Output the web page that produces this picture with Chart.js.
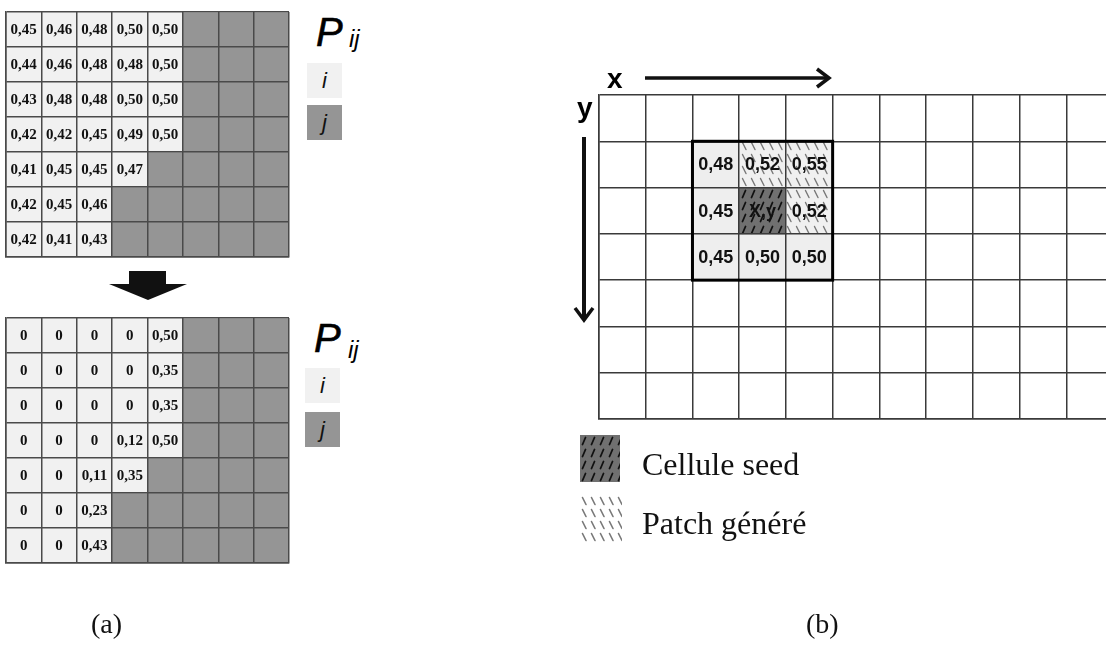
<!DOCTYPE html>
<html>
<head>
<meta charset="utf-8">
<script src="https://cdn.jsdelivr.net/npm/chart.js@4.4.1/dist/chart.umd.min.js"></script>
<style>
  body { margin: 0; width: 1106px; height: 648px; overflow: hidden; background: #fff; position: relative; }
  .abs { position: absolute; line-height: 1; white-space: nowrap; }
  .P { font: italic 40px "Liberation Sans", Arial, sans-serif; color: #000; -webkit-text-stroke: 0.6px #000; }
  .ij { font: italic 24px "Liberation Sans", Arial, sans-serif; color: #000; }
  .key { position: absolute; width: 35px; height: 35px; font: italic 22px "Liberation Sans", sans-serif;
         display: flex; align-items: center; justify-content: center; color: #111; }
  .lbl { font: 32px "Liberation Serif", "Times New Roman", serif; color: #111; }
  .cap { font: 28px "Liberation Serif", "Times New Roman", serif; color: #111; }
  .axl { font: bold 28px "Liberation Sans", Arial, sans-serif; color: #000; }
</style>
</head>
<body>

<div class="abs" style="left:3px;top:9px"><canvas id="gridTop" width="289" height="251"></canvas></div>
<div class="abs" style="left:3px;top:315px"><canvas id="gridBottom" width="289" height="251"></canvas></div>
<div class="abs" style="left:596px;top:92px"><canvas id="field" width="520" height="330"></canvas></div>

<!-- P_ij keys -->
<div class="abs P" style="left:316px;top:10px">P</div>
<div class="abs ij" style="left:349px;top:25px">ij</div>
<div class="key" style="left:307px;top:63px;background:#f1f1f1">i</div>
<div class="key" style="left:307px;top:105px;background:#959595">j</div>

<div class="abs P" style="left:314px;top:316px">P</div>
<div class="abs ij" style="left:348px;top:336px">ij</div>
<div class="key" style="left:305px;top:368px;background:#f1f1f1">i</div>
<div class="key" style="left:305px;top:412px;background:#959595">j</div>

<!-- arrows -->
<svg class="abs" style="left:0;top:0" width="1106" height="648">
  <polygon points="129,271 166,271 166,284 187,284 148,300 109,284 129,284" fill="#111"/>
  <line x1="645" y1="78" x2="827" y2="78" stroke="#111" stroke-width="3.5"/>
  <polyline points="817,69 829,78 817,87" fill="none" stroke="#111" stroke-width="3.5"/>
  <line x1="584" y1="137" x2="584" y2="319" stroke="#111" stroke-width="4"/>
  <polyline points="575,308 584,320 593,308" fill="none" stroke="#111" stroke-width="3.5"/>
</svg>
<div class="abs axl" style="left:607px;top:63px">x</div>
<div class="abs axl" style="left:577px;top:92px">y</div>

<!-- legend -->
<canvas id="keySeed" class="abs" style="left:580px;top:435px" width="40" height="47"></canvas>
<canvas id="keyPatch" class="abs" style="left:580px;top:495px" width="42" height="47"></canvas>
<div class="abs lbl" style="left:642px;top:446px">Cellule seed</div>
<div class="abs lbl" style="left:642px;top:505px">Patch généré</div>

<div class="abs cap" style="left:91px;top:608px">(a)</div>
<div class="abs cap" style="left:806px;top:608px">(b)</div>

<script>
// probabilities before (top) and after (bottom), row by row; missing cells are outside (dark)
const topValues = [
  [0.45, 0.46, 0.48, 0.50, 0.50],
  [0.44, 0.46, 0.48, 0.48, 0.50],
  [0.43, 0.48, 0.48, 0.50, 0.50],
  [0.42, 0.42, 0.45, 0.49, 0.50],
  [0.41, 0.45, 0.45, 0.47],
  [0.42, 0.45, 0.46],
  [0.42, 0.41, 0.43]
];
const bottomValues = [
  [0, 0, 0, 0, 0.50],
  [0, 0, 0, 0, 0.35],
  [0, 0, 0, 0, 0.35],
  [0, 0, 0, 0.12, 0.50],
  [0, 0, 0.11, 0.35],
  [0, 0, 0.23],
  [0, 0, 0.43]
];
// 3x3 neighbourhood around the seed cell in the field grid
const patchValues = [
  [0.48, 0.52, 0.55],
  [0.45, null, 0.52],
  [0.45, 0.50, 0.50]
];
const patchKinds = [
  ['plain', 'patch', 'patch'],
  ['plain', 'seed', 'patch'],
  ['plain', 'plain', 'plain']
];
const seedLabel = 'X,y';
const patchCol = 2, patchRow = 1;

const LEFT_COLS = 8, LEFT_ROWS = 7;
const FIELD_COLS = 11, FIELD_ROWS = 7;
const LIGHT = '#f1f1f1', DARK = '#959595', PLAIN = '#eeeeee';

function fmt(v) {
  return v === 0 ? '0' : v.toFixed(2).replace('.', ',');
}

function hatch(bg, fg, dir, w) {
  const c = document.createElement('canvas');
  c.width = 9; c.height = 12;
  const g = c.getContext('2d');
  if (bg) { g.fillStyle = bg; g.fillRect(0, 0, 9, 12); }
  g.strokeStyle = fg; g.lineWidth = w; g.lineCap = 'round';
  g.beginPath();
  if (dir > 0) { g.moveTo(2.5, 9.5); g.lineTo(5.5, 2.5); } else { g.moveTo(2.5, 2.5); g.lineTo(6, 9.5); }
  g.stroke();
  return g.createPattern(c, 'repeat');
}
const SEED = hatch('#707070', '#111', 1, 1.8);
const PATCH = hatch('#f0f0f0', '#777', -1, 1.4);

const cellText = {
  id: 'cellText',
  afterDatasetsDraw(chart, args, opts) {
    const { ctx, scales: { x, y } } = chart;
    ctx.save();
    ctx.font = opts.font;
    ctx.fillStyle = '#111';
    ctx.textAlign = 'center';
    ctx.textBaseline = 'middle';
    chart.data.datasets.forEach(ds => {
      ds.data.forEach((p, i) => {
        const t = ds.cellText[i];
        if (!t) return;
        ctx.fillText(t, x.getPixelForValue(p.x), y.getPixelForValue((p.y[0] + p.y[1]) / 2) + 1);
      });
    });
    ctx.restore();
  }
};

const patchBox = {
  id: 'patchBox',
  afterDraw(chart) {
    const { ctx, scales: { x, y } } = chart;
    const x0 = x.getPixelForValue(patchCol), x1 = x.getPixelForValue(patchCol + 3);
    const y0 = y.getPixelForValue(patchRow), y1 = y.getPixelForValue(patchRow + 3);
    ctx.save();
    ctx.strokeStyle = '#000';
    ctx.lineWidth = 3;
    ctx.strokeRect(x0, y0, x1 - x0, y1 - y0);
    ctx.restore();
  }
};

function axes(cols, rows, color) {
  const common = {
    type: 'linear', offset: false, z: 1,
    ticks: { display: false, stepSize: 1 },
    grid: { color: color, lineWidth: 1.5, drawTicks: false, offset: false, z: 1 },
    border: { color: color, width: 1.5, z: 1 }
  };
  return {
    x: { ...common, min: 0, max: cols },
    y: { ...common, min: 0, max: rows, reverse: true }
  };
}

function baseOptions(cols, rows, color, font) {
  return {
    responsive: false,
    animation: false,
    layout: { padding: 3 },
    plugins: { legend: { display: false }, tooltip: { enabled: false }, cellText: { font: font } },
    scales: axes(cols, rows, color),
    datasets: { bar: { grouped: false, barPercentage: 1, categoryPercentage: 1, borderWidth: 0 } }
  };
}

function probGrid(id, values) {
  const datasets = values.map((row, r) => ({
    data: Array.from({ length: LEFT_COLS }, (_, c) => ({ x: c + 0.5, y: [r, r + 1] })),
    backgroundColor: Array.from({ length: LEFT_COLS }, (_, c) => c < row.length ? LIGHT : DARK),
    cellText: Array.from({ length: LEFT_COLS }, (_, c) => c < row.length ? fmt(row[c]) : '')
  }));
  new Chart(document.getElementById(id), {
    type: 'bar',
    data: { datasets },
    options: baseOptions(LEFT_COLS, LEFT_ROWS, '#4a4a4a', 'bold 15px "Liberation Serif", serif'),
    plugins: [cellText]
  });
}

probGrid('gridTop', topValues);
probGrid('gridBottom', bottomValues);

const fieldSets = patchValues.map((row, r) => ({
  data: row.map((v, c) => ({ x: patchCol + c + 0.5, y: [patchRow + r, patchRow + r + 1] })),
  backgroundColor: patchKinds[r].map(k => k === 'seed' ? SEED : k === 'patch' ? PATCH : PLAIN),
  cellText: row.map(v => v === null ? seedLabel : fmt(v))
}));
new Chart(document.getElementById('field'), {
  type: 'bar',
  data: { datasets: fieldSets },
  options: baseOptions(FIELD_COLS, FIELD_ROWS, '#3a3a3a', 'bold 18px "Liberation Sans", Arial, sans-serif'),
  plugins: [cellText, patchBox]
});

// legend swatches
function swatch(id, pattern) {
  const c = document.getElementById(id), g = c.getContext('2d');
  g.fillStyle = pattern;
  g.fillRect(0, 0, c.width, c.height);
}
swatch('keySeed', SEED);
swatch('keyPatch', hatch(null, '#777', -1, 1.6));
</script>
</body>
</html>
